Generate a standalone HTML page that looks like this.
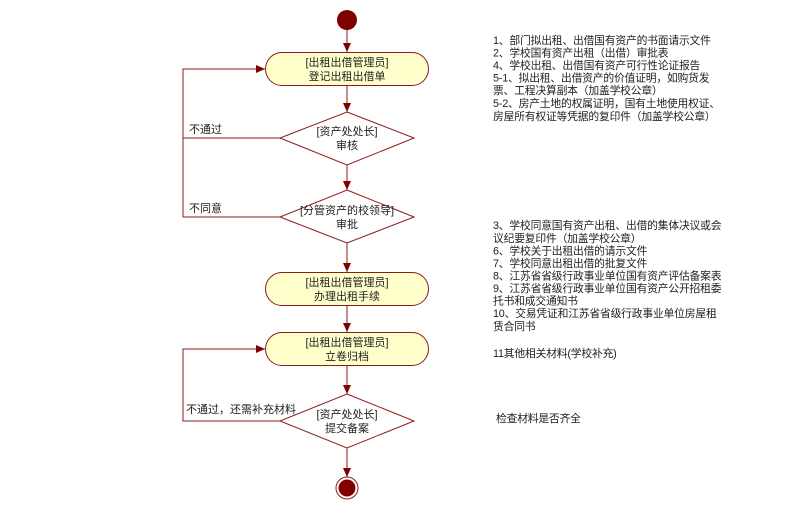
<!DOCTYPE html>
<html>
<head>
<meta charset="utf-8">
<style>
  html,body{margin:0;padding:0;background:#fff;}
  body{width:804px;height:524px;overflow:hidden;}
  svg{display:block;}
  text{font-family:"Liberation Sans","Noto Sans CJK SC","WenQuanYi Zen Hei",sans-serif;font-size:11px;fill:#222;}
  .c{text-anchor:middle;}
  .r{font-size:10.8px;letter-spacing:-0.2px;}
</style>
</head>
<body>
<svg width="804" height="524" viewBox="0 0 804 524" xmlns="http://www.w3.org/2000/svg">
  <defs>
    <marker id="a" markerWidth="10" markerHeight="10" refX="9" refY="5" orient="auto" markerUnits="userSpaceOnUse">
      <path d="M0,1 L9,5 L0,9 Z" fill="#800000"/>
    </marker>
  </defs>

  <g stroke="#8b1c1c" stroke-width="1" fill="none">
    <!-- start to node1 -->
    <line x1="347" y1="30" x2="347" y2="52" marker-end="url(#a)"/>
    <!-- node1 to diamond1 -->
    <line x1="347" y1="86" x2="347" y2="112" marker-end="url(#a)"/>
    <!-- diamond1 to diamond2 -->
    <line x1="347" y1="165" x2="347" y2="190" marker-end="url(#a)"/>
    <!-- diamond2 to node2 -->
    <line x1="347" y1="243" x2="347" y2="272" marker-end="url(#a)"/>
    <!-- node2 to node3 -->
    <line x1="347" y1="305" x2="347" y2="332" marker-end="url(#a)"/>
    <!-- node3 to diamond3 -->
    <line x1="347" y1="366" x2="347" y2="394" marker-end="url(#a)"/>
    <!-- diamond3 to end -->
    <line x1="347" y1="448" x2="347" y2="477" marker-end="url(#a)"/>

    <!-- loop 1 & 2 -->
    <polyline points="280,138 183,138"/>
    <polyline points="280,217 183,217 183,69 265,69" marker-end="url(#a)"/>
    <!-- loop 3 -->
    <polyline points="280,421 183,421 183,349 265,349" marker-end="url(#a)"/>
  </g>

  <!-- start -->
  <circle cx="347" cy="20" r="10" fill="#800000"/>

  <!-- nodes -->
  <g fill="#ffffcc" stroke="#8b1c1c" stroke-width="1">
    <rect x="265.5" y="52.5" width="163" height="33" rx="16.5" ry="16.5"/>
    <rect x="265.5" y="272.5" width="163" height="33" rx="16.5" ry="16.5"/>
    <rect x="265.5" y="332.5" width="163" height="33" rx="16.5" ry="16.5"/>
  </g>
  <g fill="#ffffff" stroke="#8b1c1c" stroke-width="1">
    <polygon points="347,112 414,138 347,165 280,138"/>
    <polygon points="347,190 414,217 347,243 280,217"/>
    <polygon points="347,394 414,421 347,448 280,421"/>
  </g>

  <!-- end -->
  <circle cx="347" cy="488" r="11" fill="#fff" stroke="#8b1c1c" stroke-width="1"/>
  <circle cx="347" cy="488" r="8.5" fill="#800000"/>

  <!-- node labels -->
  <text class="c" x="347" y="66">[出租出借管理员]</text>
  <text class="c" x="347" y="80">登记出租出借单</text>

  <text class="c" x="347" y="135">[资产处处长]</text>
  <text class="c" x="347" y="149">审核</text>

  <text class="c" x="347" y="214">[分管资产的校领导]</text>
  <text class="c" x="347" y="228">审批</text>

  <text class="c" x="347" y="286">[出租出借管理员]</text>
  <text class="c" x="347" y="300">办理出租手续</text>

  <text class="c" x="347" y="346">[出租出借管理员]</text>
  <text class="c" x="347" y="360">立卷归档</text>

  <text class="c" x="347" y="418">[资产处处长]</text>
  <text class="c" x="347" y="432">提交备案</text>

  <!-- edge labels -->
  <text x="189" y="133">不通过</text>
  <text x="189" y="212">不同意</text>
  <text x="186" y="413">不通过，还需补充材料</text>

  <!-- right notes block 1 -->
  <g class="r">
    <text class="r" x="493" y="44">1、部门拟出租、出借国有资产的书面请示文件</text>
    <text class="r" x="493" y="56.5">2、学校国有资产出租（出借）审批表</text>
    <text class="r" x="493" y="69">4、学校出租、出借国有资产可行性论证报告</text>
    <text class="r" x="493" y="81.5">5-1、拟出租、出借资产的价值证明，如购货发</text>
    <text class="r" x="493" y="94">票、工程决算副本（加盖学校公章）</text>
    <text class="r" x="493" y="107">5-2、房产土地的权属证明，国有土地使用权证、</text>
    <text class="r" x="493" y="120">房屋所有权证等凭据的复印件（加盖学校公章）</text>
  </g>

  <!-- right notes block 2 -->
  <text class="r" x="493" y="229">3、学校同意国有资产出租、出借的集体决议或会</text>
  <text class="r" x="493" y="242">议纪要复印件（加盖学校公章）</text>
  <text class="r" x="493" y="254.5">6、学校关于出租出借的请示文件</text>
  <text class="r" x="493" y="267">7、学校同意出租出借的批复文件</text>
  <text class="r" x="493" y="279.5">8、江苏省省级行政事业单位国有资产评估备案表</text>
  <text class="r" x="493" y="292">9、江苏省省级行政事业单位国有资产公开招租委</text>
  <text class="r" x="493" y="304.5">托书和成交通知书</text>
  <text class="r" x="493" y="317">10、交易凭证和江苏省省级行政事业单位房屋租</text>
  <text class="r" x="493" y="330">赁合同书</text>

  <text class="r" x="493" y="357">11其他相关材料(学校补充)</text>
  <text class="r" x="496" y="422">检查材料是否齐全</text>
</svg>
</body>
</html>
